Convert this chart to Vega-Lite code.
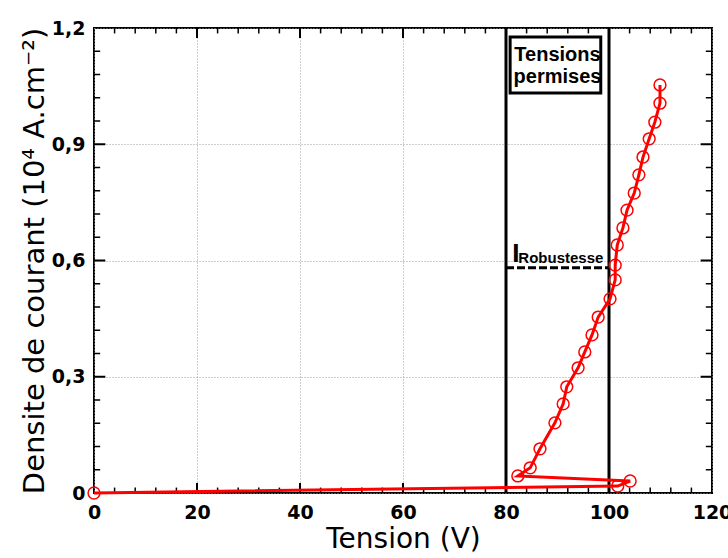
{
  "$schema": "https://vega.github.io/schema/vega-lite/v6.json",
  "width": 618,
  "height": 465,
  "autosize": {"type": "none"},
  "padding": {"left": 94, "top": 28, "right": 16, "bottom": 65},
  "background": "white",
  "config": {
    "view": {"stroke": "#000000", "strokeWidth": 2},
    "axis": {"domain": false, "labelColor": "#000000", "titleColor": "#000000"}
  },
  "datasets": {
    "curve": [
      {"V": 0, "J": 0},
      {"V": 101.7, "J": 0.018},
      {"V": 104.1, "J": 0.031},
      {"V": 82.3, "J": 0.044},
      {"V": 84.7, "J": 0.065},
      {"V": 86.6, "J": 0.114},
      {"V": 89.5, "J": 0.181},
      {"V": 91.1, "J": 0.230},
      {"V": 91.8, "J": 0.274},
      {"V": 94.0, "J": 0.323},
      {"V": 95.3, "J": 0.364},
      {"V": 96.7, "J": 0.408},
      {"V": 97.9, "J": 0.454},
      {"V": 100.2, "J": 0.501},
      {"V": 101.2, "J": 0.550},
      {"V": 101.2, "J": 0.588},
      {"V": 101.6, "J": 0.640},
      {"V": 102.7, "J": 0.684},
      {"V": 103.5, "J": 0.730},
      {"V": 104.9, "J": 0.774},
      {"V": 105.8, "J": 0.821},
      {"V": 106.6, "J": 0.867},
      {"V": 107.8, "J": 0.914},
      {"V": 108.9, "J": 0.957},
      {"V": 109.9, "J": 1.006},
      {"V": 109.9, "J": 1.053}
    ],
    "vlines": [{"V": 80}, {"V": 100}],
    "box": [{"x1": 80.8, "x2": 98.4, "y1": 1.032, "y2": 1.177}],
    "boxtext": [
      {"V": 90, "J": 1.115, "t": "Tensions"},
      {"V": 90, "J": 1.058, "t": "permises"}
    ],
    "dash": [{"x1": 80, "x2": 100, "J": 0.581}],
    "ilabel": [{"V": 81.2, "J": 0.597, "t": "I"}],
    "sublabel": [{"V": 82.4, "J": 0.594, "t": "Robustesse"}],
    "xmajor": [{"V": 20}, {"V": 40}, {"V": 60}, {"V": 80}, {"V": 100}],
    "xminor": [{"V": 4}, {"V": 8}, {"V": 12}, {"V": 16}, {"V": 24}, {"V": 28}, {"V": 32}, {"V": 36}, {"V": 44}, {"V": 48}, {"V": 52}, {"V": 56}, {"V": 64}, {"V": 68}, {"V": 72}, {"V": 76}, {"V": 84}, {"V": 88}, {"V": 92}, {"V": 96}, {"V": 104}, {"V": 108}, {"V": 112}, {"V": 116}],
    "ymajor": [{"J": 0.3}, {"J": 0.6}, {"J": 0.9}],
    "yminor": [{"J": 0.06}, {"J": 0.12}, {"J": 0.18}, {"J": 0.24}, {"J": 0.36}, {"J": 0.42}, {"J": 0.48}, {"J": 0.54}, {"J": 0.66}, {"J": 0.72}, {"J": 0.78}, {"J": 0.84}, {"J": 0.96}, {"J": 1.02}, {"J": 1.08}, {"J": 1.14}]
  },
  "layer": [
    {
      "data": {"name": "vlines"},
      "mark": {"type": "rule", "color": "#000000", "strokeWidth": 3},
      "encoding": {
        "x": {
          "field": "V", "type": "quantitative",
          "scale": {"domain": [0, 120], "nice": false, "zero": false},
          "axis": {
            "orient": "bottom", "values": [0, 20, 40, 60, 80, 100, 120],
            "ticks": false, "grid": true, "gridDash": [1, 2], "gridColor": "#9a9a9a", "gridWidth": 1,
            "labelFont": "DejaVu Sans", "labelFontSize": 19, "labelFontWeight": "bold",
            "labelPadding": 10, "labelFlush": false, "labelOverlap": false,
            "title": "Tension (V)", "titleFont": "DejaVu Sans", "titleFontSize": 28,
            "titleFontWeight": "normal", "titlePadding": 3
          }
        },
        "y": {
          "datum": 0, "type": "quantitative",
          "scale": {"domain": [0, 1.2], "nice": false, "zero": false},
          "axis": {
            "orient": "left", "values": [0, 0.3, 0.6, 0.9, 1.2],
            "ticks": false, "grid": true, "gridDash": [1, 2], "gridColor": "#9a9a9a", "gridWidth": 1,
            "labelExpr": "datum.value == 0 ? '0' : replace(format(datum.value, '.1f'), '.', ',')",
            "labelFont": "DejaVu Sans", "labelFontSize": 19, "labelFontWeight": "bold",
            "labelPadding": 9, "labelFlush": false, "labelOverlap": false,
            "title": "Densite de courant (10⁴ A.cm⁻²)", "titleFont": "DejaVu Sans", "titleFontSize": 29,
            "titleFontWeight": "normal", "titlePadding": 2
          }
        },
        "y2": {"datum": 1.2}
      }
    },
    {
      "data": {"name": "xmajor"},
      "mark": {"type": "rule", "color": "#000000", "strokeWidth": 2},
      "encoding": {
        "x": {"field": "V", "type": "quantitative", "scale": {"domain": [0, 120], "nice": false, "zero": false}},
        "y": {"datum": 0, "type": "quantitative", "scale": {"domain": [0, 1.2], "nice": false, "zero": false}},
        "y2": {"datum": 0.026}
      }
    },
    {
      "data": {"name": "xmajor"},
      "mark": {"type": "rule", "color": "#000000", "strokeWidth": 2},
      "encoding": {
        "x": {"field": "V", "type": "quantitative", "scale": {"domain": [0, 120], "nice": false, "zero": false}},
        "y": {"datum": 1.2, "type": "quantitative", "scale": {"domain": [0, 1.2], "nice": false, "zero": false}},
        "y2": {"datum": 1.174}
      }
    },
    {
      "data": {"name": "xminor"},
      "mark": {"type": "rule", "color": "#000000", "strokeWidth": 1.5},
      "encoding": {
        "x": {"field": "V", "type": "quantitative", "scale": {"domain": [0, 120], "nice": false, "zero": false}},
        "y": {"datum": 0, "type": "quantitative", "scale": {"domain": [0, 1.2], "nice": false, "zero": false}},
        "y2": {"datum": 0.014}
      }
    },
    {
      "data": {"name": "xminor"},
      "mark": {"type": "rule", "color": "#000000", "strokeWidth": 1.5},
      "encoding": {
        "x": {"field": "V", "type": "quantitative", "scale": {"domain": [0, 120], "nice": false, "zero": false}},
        "y": {"datum": 1.2, "type": "quantitative", "scale": {"domain": [0, 1.2], "nice": false, "zero": false}},
        "y2": {"datum": 1.186}
      }
    },
    {
      "data": {"name": "ymajor"},
      "mark": {"type": "rule", "color": "#000000", "strokeWidth": 2},
      "encoding": {
        "x": {"datum": 0, "type": "quantitative", "scale": {"domain": [0, 120], "nice": false, "zero": false}},
        "x2": {"datum": 2.2},
        "y": {"field": "J", "type": "quantitative", "scale": {"domain": [0, 1.2], "nice": false, "zero": false}}
      }
    },
    {
      "data": {"name": "ymajor"},
      "mark": {"type": "rule", "color": "#000000", "strokeWidth": 2},
      "encoding": {
        "x": {"datum": 120, "type": "quantitative", "scale": {"domain": [0, 120], "nice": false, "zero": false}},
        "x2": {"datum": 117.8},
        "y": {"field": "J", "type": "quantitative", "scale": {"domain": [0, 1.2], "nice": false, "zero": false}}
      }
    },
    {
      "data": {"name": "yminor"},
      "mark": {"type": "rule", "color": "#000000", "strokeWidth": 1.5},
      "encoding": {
        "x": {"datum": 0, "type": "quantitative", "scale": {"domain": [0, 120], "nice": false, "zero": false}},
        "x2": {"datum": 1.2},
        "y": {"field": "J", "type": "quantitative", "scale": {"domain": [0, 1.2], "nice": false, "zero": false}}
      }
    },
    {
      "data": {"name": "yminor"},
      "mark": {"type": "rule", "color": "#000000", "strokeWidth": 1.5},
      "encoding": {
        "x": {"datum": 120, "type": "quantitative", "scale": {"domain": [0, 120], "nice": false, "zero": false}},
        "x2": {"datum": 118.8},
        "y": {"field": "J", "type": "quantitative", "scale": {"domain": [0, 1.2], "nice": false, "zero": false}}
      }
    },
    {
      "data": {"name": "dash"},
      "mark": {"type": "rule", "color": "#000000", "strokeWidth": 3, "strokeDash": [8, 3]},
      "encoding": {
        "x": {"field": "x1", "type": "quantitative", "scale": {"domain": [0, 120], "nice": false, "zero": false}},
        "x2": {"field": "x2"},
        "y": {"field": "J", "type": "quantitative", "scale": {"domain": [0, 1.2], "nice": false, "zero": false}}
      }
    },
    {
      "data": {"name": "curve"},
      "mark": {"type": "line", "color": "#ff0000", "strokeWidth": 3},
      "encoding": {
        "x": {"field": "V", "type": "quantitative", "scale": {"domain": [0, 120], "nice": false, "zero": false}},
        "y": {"field": "J", "type": "quantitative", "scale": {"domain": [0, 1.2], "nice": false, "zero": false}},
        "order": {"value": null}
      }
    },
    {
      "data": {"name": "curve"},
      "mark": {"type": "point", "shape": "circle", "filled": false, "color": "#ff0000", "size": 140, "strokeWidth": 1.5, "opacity": 1},
      "encoding": {
        "x": {"field": "V", "type": "quantitative", "scale": {"domain": [0, 120], "nice": false, "zero": false}},
        "y": {"field": "J", "type": "quantitative", "scale": {"domain": [0, 1.2], "nice": false, "zero": false}}
      }
    },
    {
      "data": {"name": "box"},
      "mark": {"type": "rect", "fill": "#ffffff", "stroke": "#000000", "strokeWidth": 3},
      "encoding": {
        "x": {"field": "x1", "type": "quantitative", "scale": {"domain": [0, 120], "nice": false, "zero": false}},
        "x2": {"field": "x2"},
        "y": {"field": "y1", "type": "quantitative", "scale": {"domain": [0, 1.2], "nice": false, "zero": false}},
        "y2": {"field": "y2"}
      }
    },
    {
      "data": {"name": "boxtext"},
      "mark": {"type": "text", "font": "Liberation Sans", "fontSize": 20, "fontWeight": "bold", "align": "center", "baseline": "alphabetic", "color": "#000000"},
      "encoding": {
        "x": {"field": "V", "type": "quantitative", "scale": {"domain": [0, 120], "nice": false, "zero": false}},
        "y": {"field": "J", "type": "quantitative", "scale": {"domain": [0, 1.2], "nice": false, "zero": false}},
        "text": {"field": "t"}
      }
    },
    {
      "data": {"name": "ilabel"},
      "mark": {"type": "text", "font": "Liberation Sans", "fontSize": 26, "fontWeight": "bold", "align": "left", "baseline": "alphabetic", "color": "#000000"},
      "encoding": {
        "x": {"field": "V", "type": "quantitative", "scale": {"domain": [0, 120], "nice": false, "zero": false}},
        "y": {"field": "J", "type": "quantitative", "scale": {"domain": [0, 1.2], "nice": false, "zero": false}},
        "text": {"field": "t"}
      }
    },
    {
      "data": {"name": "sublabel"},
      "mark": {"type": "text", "font": "Liberation Sans", "fontSize": 15, "fontWeight": "bold", "align": "left", "baseline": "alphabetic", "color": "#000000"},
      "encoding": {
        "x": {"field": "V", "type": "quantitative", "scale": {"domain": [0, 120], "nice": false, "zero": false}},
        "y": {"field": "J", "type": "quantitative", "scale": {"domain": [0, 1.2], "nice": false, "zero": false}},
        "text": {"field": "t"}
      }
    }
  ]
}
